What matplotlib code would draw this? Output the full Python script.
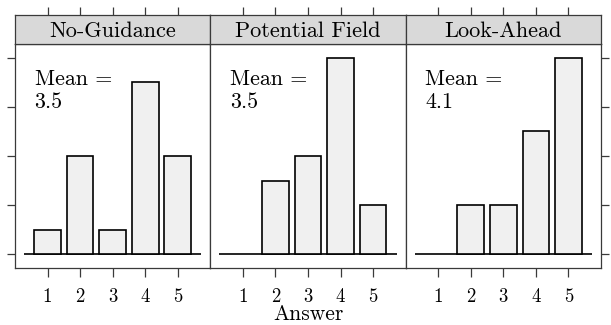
import matplotlib
matplotlib.use("Agg")
import matplotlib.pyplot as plt

plt.rcParams['font.family'] = ['cmr10', 'DejaVu Serif']
plt.rcParams['mathtext.fontset'] = 'cm'
plt.rcParams['axes.formatter.use_mathtext'] = True

panels = ["No-Guidance", "Potential Field", "Look-Ahead"]
answers = [1, 2, 3, 4, 5]
counts = [
    [1, 4, 1, 7, 4],
    [0, 3, 4, 8, 2],
    [0, 2, 2, 5, 8],
]
means = ["3.5", "3.5", "4.1"]
yticks = [0, 2, 4, 6, 8]

W, H = 611, 325
fig = plt.figure(figsize=(W / 100, H / 100), dpi=100)

left_px = 15
pw = (601 - 15) / 3.0
top_px = 44
bot_px = 268
strip_top = 15

edge = "#3a3a3a"
lw = 0.9

for i, name in enumerate(panels):
    x0 = left_px + i * pw
    ax = fig.add_axes([x0 / W, 1 - bot_px / H, pw / W, (bot_px - top_px) / H])
    ax.set_xlim(0, 6)
    ax.set_ylim(-0.57, 8.57)
    vals = counts[i]
    ax.hlines(0, 0.28, 5.72, color="black", lw=1.2, zorder=1)
    bars_x = [a for a, v in zip(answers, vals) if v > 0]
    bars_v = [v for v in vals if v > 0]
    ax.bar(bars_x, bars_v, width=0.82, color="#f0f0f0", edgecolor="black",
           linewidth=1.2, zorder=2)
    ax.text(0.1, 0.885, "Mean =\n" + means[i], transform=ax.transAxes,
            ha="left", va="top", fontsize=15.8, linespacing=1.2)
    for s in ax.spines.values():
        s.set_color(edge)
        s.set_linewidth(lw)
    ax.set_xticks(answers)
    ax.set_xticklabels([str(a) for a in answers], fontsize=13.5)
    ax.set_yticks(yticks)
    ax.set_yticklabels([])
    ax.tick_params(axis="x", direction="out", length=6.5, width=0.9,
                   color=edge, pad=8)
    if i == 0:
        ax.tick_params(axis="y", left=True, right=False, direction="out",
                       length=6, width=0.9, color=edge)
    elif i == 2:
        ax.tick_params(axis="y", left=False, right=True, direction="out",
                       length=6, width=0.9, color=edge)
    else:
        ax.tick_params(axis="y", left=False, right=False)
    if i == 1:
        ax.set_xlabel("Answer", fontsize=15.5, labelpad=-1)

    sax = fig.add_axes([x0 / W, 1 - top_px / H, pw / W, (top_px - strip_top) / H])
    sax.set_facecolor("#d9d9d9")
    sax.set_xlim(0, 6)
    sax.set_ylim(0, 1)
    sax.set_xticks(answers)
    sax.set_xticklabels([])
    sax.set_yticks([])
    sax.tick_params(axis="x", bottom=False, top=True, direction="out",
                    length=6, width=0.9, color=edge)
    for s in sax.spines.values():
        s.set_color(edge)
        s.set_linewidth(lw)
    sax.text(0.5, 0.45, name, transform=sax.transAxes, ha="center",
             va="center", fontsize=16)

fig.savefig("out.png", dpi=100)
